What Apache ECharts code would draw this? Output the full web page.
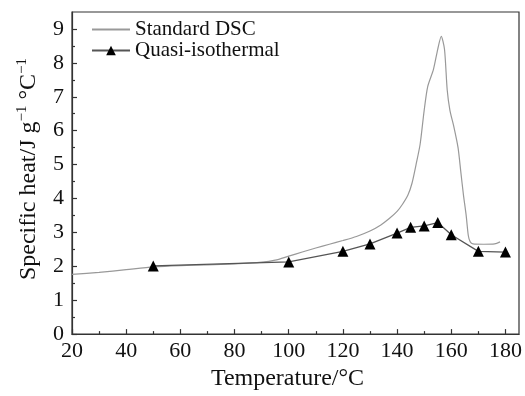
<!DOCTYPE html>
<html>
<head>
<meta charset="utf-8">
<script src="https://cdn.jsdelivr.net/npm/echarts@6/dist/echarts.min.js"></script>
<style>html,body{margin:0;padding:0;background:#fff}#c{width:525px;height:396px}</style>
</head>
<body>
<div id="c"></div>
<script>
var dscTemp = [20, 30, 40, 50, 60, 70, 80, 90, 95, 100, 105, 110, 115, 120, 125, 130, 134, 137, 140, 142, 144, 145.5, 147, 148.5, 150, 151.3, 153.4, 155, 156.3, 157.5, 158.5, 159.5, 161, 162.5, 163.5, 164.5, 165.5, 166.3, 167, 168, 172, 176, 178];
var dscHeat = [1.76, 1.82, 1.9, 1.98, 2.02, 2.04, 2.07, 2.12, 2.18, 2.3, 2.42, 2.54, 2.65, 2.76, 2.88, 3.04, 3.22, 3.4, 3.62, 3.83, 4.1, 4.45, 5.0, 5.6, 6.6, 7.3, 7.8, 8.4, 8.78, 8.4, 7.2, 6.6, 6.1, 5.5, 4.8, 4.1, 3.5, 2.9, 2.72, 2.66, 2.65, 2.66, 2.72];
var qiTemp = [50, 100, 120, 130, 140, 145, 150, 155, 160, 170, 180];
var qiHeat = [2.01, 2.13, 2.44, 2.66, 2.98, 3.15, 3.19, 3.29, 2.93, 2.44, 2.42];
var xTicks = [20, 40, 60, 80, 100, 120, 140, 160, 180];
var yTicks = [0, 1, 2, 3, 4, 5, 6, 7, 8, 9];

function pairs(a, b) { return a.map(function (v, i) { return [v, b[i]]; }); }

var FONT = 'Liberation Serif';
var chart = echarts.init(document.getElementById('c'), null, { renderer: 'canvas' });
chart.setOption({
  animation: false,
  backgroundColor: '#fff',
  textStyle: { fontFamily: FONT, color: '#111' },
  grid: { left: 72, right: 6, top: 12, bottom: 58, show: true, borderColor: '#333', borderWidth: 1.2 },
  legend: {
    orient: 'vertical', left: 86, top: 14, itemWidth: 38, itemHeight: 12, itemGap: 0,
    textStyle: { fontFamily: FONT, fontSize: 21, color: '#111', lineHeight: 18 },
    data: [
      { name: 'Standard DSC', itemStyle: { opacity: 0 } },
      { name: 'Quasi-isothermal' }
    ]
  },
  xAxis: {
    type: 'value', min: 20, max: 185, interval: 20,
    name: 'Temperature/°C', nameLocation: 'middle', nameGap: 29,
    nameTextStyle: { fontFamily: FONT, fontSize: 24, color: '#111', padding: [0, 16, 0, 0] },
    axisLine: { lineStyle: { color: '#333', width: 1.2 } },
    axisTick: { inside: true, length: 5, customValues: xTicks, lineStyle: { color: '#333', width: 1.2 } },
    minorTick: { show: true, splitNumber: 2, length: 3, lineStyle: { color: '#333', width: 1.2 } },
    splitLine: { show: false },
    axisLabel: { customValues: xTicks, fontFamily: FONT, fontSize: 22, color: '#111', margin: 6 }
  },
  yAxis: {
    type: 'value', min: 0, max: 9.5, interval: 1,
    name: '{m|Specific heat/J g}{s|−1}{m| °C}{s|−1}', nameLocation: 'middle', nameGap: 31, nameRotate: 90,
    nameTextStyle: {
      fontFamily: FONT, fontSize: 24, color: '#111', padding: [0, 0, 0, 8],
      rich: {
        m: { fontFamily: FONT, fontSize: 24, color: '#111', lineHeight: 26, verticalAlign: 'bottom' },
        s: { fontFamily: FONT, fontSize: 15, color: '#111', lineHeight: 26, verticalAlign: 'top' }
      }
    },
    axisLine: { show: true, lineStyle: { color: '#333', width: 1.2 } },
    axisTick: { show: true, inside: true, length: 5, customValues: yTicks, lineStyle: { color: '#333', width: 1.2 } },
    minorTick: { show: true, splitNumber: 2, length: 3, lineStyle: { color: '#333', width: 1.2 } },
    splitLine: { show: false },
    axisLabel: { customValues: yTicks, fontFamily: FONT, fontSize: 22, color: '#111', margin: 8 }
  },
  series: [
    {
      name: 'Standard DSC', type: 'line', data: pairs(dscTemp, dscHeat),
      symbol: 'none', smooth: 0.25,
      lineStyle: { color: '#999', width: 1.2 }, itemStyle: { color: '#999' }
    },
    {
      name: 'Quasi-isothermal', type: 'line', data: pairs(qiTemp, qiHeat),
      symbol: 'triangle', symbolSize: 11,
      lineStyle: { color: '#555', width: 1.3 }, itemStyle: { color: '#000' }
    }
  ]
});
</script>
</body>
</html>
